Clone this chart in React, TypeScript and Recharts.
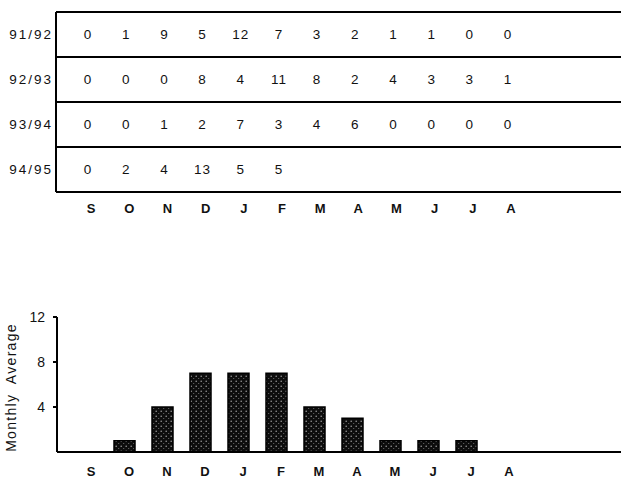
import {
  ScatterChart, Scatter, BarChart, Bar, XAxis, YAxis, ReferenceLine,
} from 'recharts';

const MONTHS = ['S', 'O', 'N', 'D', 'J', 'F', 'M', 'A', 'M', 'J', 'J', 'A'];
const SEASONS = ['91/92', '92/93', '93/94', '94/95'];

// monthly counts per season (Sep..Aug)
const S9192 = [0, 1, 9, 5, 12, 7, 3, 2, 1, 1, 0, 0];
const S9293 = [0, 0, 0, 8, 4, 11, 8, 2, 4, 3, 3, 1];
const S9394 = [0, 0, 1, 2, 7, 3, 4, 6, 0, 0, 0, 0];
const S9495 = [0, 2, 4, 13, 5, 5];

const MONTHLY_AVERAGE = [0, 1, 4, 7, 7, 7, 4, 3, 1, 1, 1, 0];

const FONT = '"Liberation Sans", Arial, sans-serif';

const cells = [S9192, S9293, S9394, S9495].flatMap((vals, row) =>
  vals.map((v, m) => ({ m, row: row + 0.5, v })),
);

const avgData = MONTHS.map((month, i) => ({ month, value: MONTHLY_AVERAGE[i] }));

function CellText(props: any) {
  const { cx, cy, payload } = props;
  return (
    <text x={cx} y={cy} textAnchor="middle" dominantBaseline="central"
      fontSize={13.5} fill="#111" letterSpacing={1} style={{ fontFamily: FONT }}>
      {payload.v}
    </text>
  );
}

export default function App() {
  return (
    <div style={{ position: 'absolute', left: 0, top: 0, width: 621, height: 478, background: '#fff', fontFamily: FONT, overflow: 'hidden' }}>
      <ScatterChart width={621} height={225} margin={{ top: 12, right: 0, left: 0, bottom: 0 }}>
        <XAxis
          type="number" dataKey="m" domain={[-0.84, 13.96]} allowDataOverflow
          ticks={[0, 1, 2, 3, 4, 5, 6, 7, 8, 9, 10, 11]} interval={0}
          tickFormatter={(i: number) => MONTHS[i]}
          axisLine={false} tickLine={false} tickSize={0} tickMargin={12} height={33}
          tick={{ fontSize: 13, fontWeight: 700, fill: '#111', dx: 3 }}
        />
        <YAxis
          type="number" dataKey="row" domain={[0, 4]} reversed
          ticks={[0.5, 1.5, 2.5, 3.5]} interval={0}
          tickFormatter={(v: number) => SEASONS[Math.floor(v)]}
          width={56} tickLine={false} tickSize={0} tickMargin={3}
          axisLine={{ stroke: '#000', strokeWidth: 2 }}
          tick={{ fontSize: 13.5, fill: '#111', letterSpacing: 2 }}
        />
        {[0, 1, 2, 3, 4].map(y => (
          <ReferenceLine key={y} y={y} stroke="#000" strokeWidth={1.8} ifOverflow="extendDomain" />
        ))}
        <Scatter data={cells} shape={CellText} isAnimationActive={false} />
      </ScatterChart>

      <div style={{ position: 'absolute', left: 0, top: 290 }}>
        <BarChart width={621} height={188} data={avgData} margin={{ top: 27, right: 0, left: 0, bottom: 0 }}>
          <defs>
            <pattern id="stipple" width="5" height="5" patternUnits="userSpaceOnUse">
              <rect width="5" height="5" fill="#0d0d0d" />
              <circle cx="1.2" cy="1.2" r="0.8" fill="#9a9a9a" />
              <circle cx="3.7" cy="3.5" r="0.6" fill="#777" />
            </pattern>
          </defs>
          <XAxis
            dataKey="month" padding={{ left: 10, right: 98 }} interval={0}
            axisLine={{ stroke: '#000', strokeWidth: 2 }} tickLine={false}
            tickSize={0} tickMargin={15} height={26}
            tick={{ fontSize: 13, fontWeight: 700, fill: '#111', dx: 5 }}
          />
          <YAxis
            domain={[0, 12]} ticks={[4, 8, 12]} interval={0} width={57}
            axisLine={{ stroke: '#000', strokeWidth: 2 }}
            tickLine={{ stroke: '#000', strokeWidth: 2 }} tickSize={4} tickMargin={8}
            tick={{ fontSize: 14, fill: '#111' }}
            label={({ viewBox }: any) => {
              const cy = viewBox.y + viewBox.height / 2 + 3;
              return (
                <text x={11} y={cy} transform={`rotate(-90 11 ${cy})`} textAnchor="middle"
                  dominantBaseline="central" fontSize={14} fill="#111" letterSpacing={1.3}
                  style={{ fontFamily: FONT, whiteSpace: 'pre' }}>
                  {'Monthly  Average'}
                </text>
              );
            }}
          />
          <Bar dataKey="value" barSize={21} fill="url(#stipple)" stroke="#000" strokeWidth={1.5} isAnimationActive={false} />
        </BarChart>
      </div>
    </div>
  );
}
